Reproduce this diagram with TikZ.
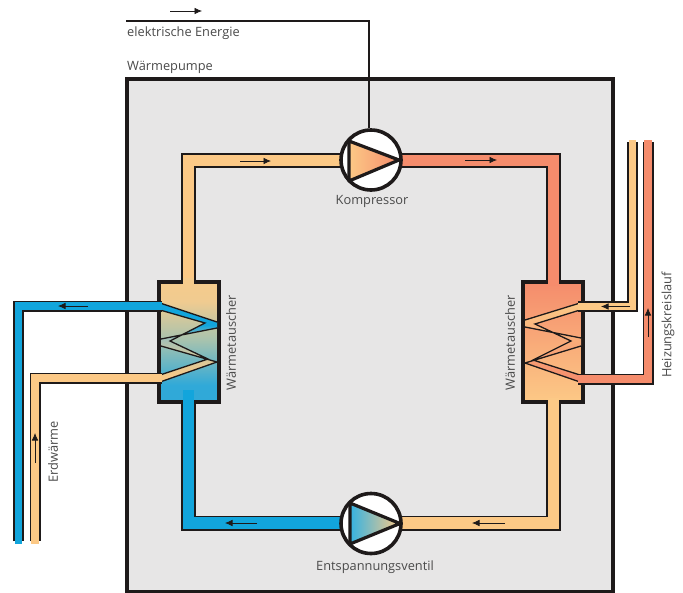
\documentclass[tikz,border=0pt]{standalone}
\usepackage{fontspec}
\setmainfont{Open Sans}
\usetikzlibrary{arrows.meta}
\definecolor{wpblue}{HTML}{12A5DC}
\definecolor{wptan}{HTML}{FCC986}
\definecolor{wpsalmon}{HTML}{F58C6C}
\definecolor{wpgray}{HTML}{E7E6E6}
\definecolor{wpink}{HTML}{1E1A1A}
\definecolor{wptext}{HTML}{4A4A4A}
\definecolor{bodya}{HTML}{F5CB8C}
\definecolor{bodyb}{HTML}{F0CB90}
\definecolor{bodyc}{HTML}{A8C3AE}
\definecolor{bodyd}{HTML}{30A9D8}
\definecolor{coila}{HTML}{D9C89A}
\definecolor{coilb}{HTML}{A0C0B8}
\pgfdeclareverticalshading{hxblue}{100bp}{color(0bp)=(bodyd); color(32bp)=(bodyd); color(51bp)=(bodyc); color(67bp)=(bodyb); color(75bp)=(bodya); color(100bp)=(bodya)}
\pgfdeclareverticalshading{coilblue}{100bp}{color(0bp)=(wptan); color(27bp)=(wptan); color(39bp)=(coila); color(53bp)=(coilb); color(61bp)=(wpblue); color(100bp)=(wpblue)}
\newcommand{\wppipe}[4]{%
  \draw[wpink,line width=#2pt,miter limit=10] #4;
  \draw[#1,line width=#3pt,miter limit=10] #4;}
\tikzset{
  lbl/.style={text=wptext,font=\fontsize{12.8}{14}\selectfont,inner sep=0pt},
  lblv/.style={lbl,rotate=90},
  housing/.style={draw=wpink,line width=4pt,fill=wpgray},
  hxbox/.style={draw=wpink,line width=4pt},
  rotor/.style={circle,draw=wpink,line width=3.6pt,fill=white,minimum size=60pt,inner sep=0pt},
  impeller/.style={draw=wpink,line width=3.2pt,line join=round},
  coil/.style={draw=wpink,line width=1.3pt},
  flow/.style={draw=wpink,line width=.7pt,-{Latex[length=7.5pt,width=6.5pt]}},
}
\begin{document}
\begin{tikzpicture}[x=1pt,y=-1pt]
\useasboundingbox (0,0) rectangle (683,592);
\fill[white] (0,0) rectangle (683,592);
\draw[housing] (127,79) rectangle (612.5,592);

% heat exchanger bodies
\draw[hxbox,shading=hxblue] (159,282) rectangle (219,402);
\draw[hxbox,top color=wpsalmon,bottom color=wptan] (523,282) rectangle (583,402);

% coils
\shade[shading=coilblue]
  (160,303)--(217,322)--(217,328)--(161,339)--(161,346)--(217,362)--(160,382)--(160,375)--(208,359)--(170,341)--(205,323)--(160,310)--cycle;
\draw[coil] (160,303)--(217,322) (217,328)--(161,339) (161,346)--(217,362)--(160,382) (160,375)--(208,359)--(170,341)--(205,323)--(160,310);
\fill[top color=wptan,bottom color=wpsalmon]
  (580,303)--(525,320)--(525,327)--(581,338)--(581,346)--(525,363)--(580,382)--(580,375)--(533,360)--(571,341)--(535,324)--(580,310)--cycle;
\draw[coil] (580,303)--(525,320) (525,327)--(581,338) (581,346)--(525,363)--(580,382) (580,375)--(533,360)--(571,341)--(535,324)--(580,310);

% refrigerant circuit
\wppipe{wptan}{15}{11.5}{(188.5,284)--(188.5,160.5)--(345,160.5)}
\wppipe{wpsalmon}{15}{11.5}{(400,160.5)--(553.5,160.5)--(553.5,284)}
\wppipe{wptan}{15}{11.5}{(553.5,400)--(553.5,523)--(400,523)}
\wppipe{wpblue}{15}{11.5}{(345,523)--(188.5,523)--(188.5,404)}
\fill[wpblue] (182.75,390) rectangle (194.25,406);
\fill[bodya] (182.75,278) rectangle (194.25,286);
\fill[wpsalmon] (547.75,278) rectangle (559.25,286);
\fill[wptan] (547.75,398) rectangle (559.25,406);

% outer circuits
\coordinate (blueend) at (18.5,541);
\coordinate (tanend) at (35,541);
\wppipe{wpblue}{11}{7.4}{(blueend)--(18.5,306)--(162,306)}
\fill[wpblue] (14.8,539) rectangle (22.2,544);
\wppipe{wptan}{11}{7.6}{(tanend)--(35,378)--(162,378)}
\fill[wptan] (31.2,539) rectangle (38.8,544);
\wppipe{wptan}{11}{7.4}{(632.5,142)--(632.5,306.5)--(578,306.5)}
\fill[wptan] (628.8,139.5) rectangle (636.2,144);
\wppipe{wpsalmon}{11}{7.4}{(648,142)--(648,379)--(578,379)}
\fill[wpsalmon] (644.3,139.5) rectangle (651.7,144);

% power line
\coordinate (powerstart) at (126,21);
\node[rotor] (comp) at (371,160) {};
\node[rotor] (valve) at (371,523.5) {};
\draw[wpink,line width=1.5pt] (powerstart)--(369,21)--(comp.north -| 369,0);

% machines
\draw[impeller,left color=wptan,right color=wpsalmon] (349,141)--(399,160)--(349,181)--cycle;
\draw[impeller,left color=wpblue!85!white,right color=wptan] (350,503)--(400,523.5)--(350,544)--cycle;

% flow arrows
\draw[flow] (240,161)--(271,161);
\draw[flow] (465,160)--(497,160);
\draw[flow] (505,523)--(472,523);
\draw[flow] (257,523)--(225,523);
\draw[flow] (88,306)--(58,306);
\draw[flow] (630,306.5)--(601,306.5);
\draw[flow] (648,337)--(648,308);
\draw[flow] (35,463)--(35,433);
\draw[flow] (170,11)--(202,11);

% labels
\node[lbl,anchor=west] (lblenergy) at (127,33) {elektrische Energie};
\node[lbl,anchor=west] (lblpump) at (127,67) {Wärmepumpe};
\node[lbl] (lblcomp) at (372,201) {Kompressor};
\node[lbl] (lblvalve) at (375,567) {Entspannungsventil};
\node[lblv] (lblhxl) at (231,343) {Wärmetauscher};
\node[lblv] (lblhxr) at (510,343) {Wärmetauscher};
\node[lblv] (lblheat) at (668,325) {Heizungskreislauf};
\node[lblv] (lblearth) at (53,452) {Erdwärme};
\end{tikzpicture}
\end{document}
